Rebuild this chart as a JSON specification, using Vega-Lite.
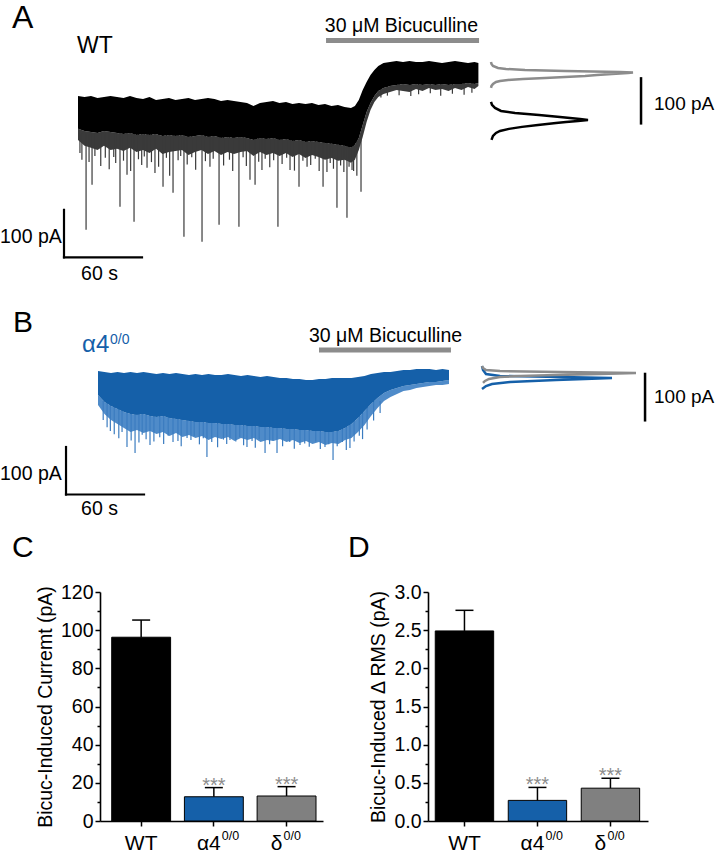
{
  "$schema": "https://vega.github.io/schema/vega-lite/v6.json",
  "background": "white",
  "padding": 0,
  "spacing": 0,
  "config": {"font": "Liberation Sans", "view": {"stroke": null}},
  "datasets": {
    "traceA": [
      {"t":0,"hi":8.4,"lo":-61.0,"fr":-84.2},{"t":5,"hi":6.3,"lo":-65.3,"fr":-96.8},{"t":10,"hi":8.4,"lo":-67.4,"fr":-101.0},
      {"t":15,"hi":4.2,"lo":-69.5,"fr":-105.3},{"t":20,"hi":6.3,"lo":-65.3,"fr":-96.8},{"t":25,"hi":8.4,"lo":-67.4,"fr":-105.3},
      {"t":30,"hi":6.3,"lo":-69.5,"fr":-103.1},{"t":35,"hi":4.2,"lo":-71.6,"fr":-107.4},{"t":40,"hi":8.4,"lo":-69.5,"fr":-101.0},
      {"t":45,"hi":4.2,"lo":-73.7,"fr":-109.5},{"t":50,"hi":2.1,"lo":-71.6,"fr":-105.3},{"t":55,"hi":6.3,"lo":-73.7,"fr":-111.6},
      {"t":60,"hi":0.0,"lo":-71.6,"fr":-103.1},{"t":65,"hi":2.1,"lo":-75.8,"fr":-113.7},{"t":70,"hi":4.2,"lo":-73.7,"fr":-109.5},
      {"t":75,"hi":0.0,"lo":-75.8,"fr":-107.4},{"t":80,"hi":2.1,"lo":-73.7,"fr":-105.3},{"t":85,"hi":4.2,"lo":-77.9,"fr":-115.8},
      {"t":90,"hi":0.0,"lo":-75.8,"fr":-109.5},{"t":95,"hi":2.1,"lo":-73.7,"fr":-105.3},{"t":100,"hi":4.2,"lo":-77.9,"fr":-113.7},
      {"t":105,"hi":2.1,"lo":-75.8,"fr":-107.4},{"t":110,"hi":-2.1,"lo":-80.0,"fr":-115.8},{"t":115,"hi":0.0,"lo":-77.9,"fr":-109.5},
      {"t":120,"hi":-2.1,"lo":-80.0,"fr":-113.7},{"t":125,"hi":-4.2,"lo":-77.9,"fr":-109.5},{"t":130,"hi":-6.3,"lo":-80.0,"fr":-107.4},
      {"t":135,"hi":-12.6,"lo":-84.2,"fr":-117.9},{"t":140,"hi":-6.3,"lo":-80.0,"fr":-109.5},{"t":145,"hi":-4.2,"lo":-82.1,"fr":-115.8},
      {"t":150,"hi":-2.1,"lo":-80.0,"fr":-111.6},{"t":155,"hi":-6.3,"lo":-84.2,"fr":-117.9},{"t":160,"hi":-4.2,"lo":-82.1,"fr":-111.6},
      {"t":165,"hi":-8.4,"lo":-86.3,"fr":-120.0},{"t":170,"hi":-6.3,"lo":-84.2,"fr":-113.7},{"t":175,"hi":-8.4,"lo":-88.4,"fr":-122.1},
      {"t":180,"hi":-6.3,"lo":-86.3,"fr":-115.8},{"t":185,"hi":-10.5,"lo":-88.4,"fr":-120.0},{"t":190,"hi":-8.4,"lo":-90.5,"fr":-126.3},
      {"t":195,"hi":-12.6,"lo":-92.6,"fr":-122.1},{"t":200,"hi":-10.5,"lo":-94.7,"fr":-128.4},{"t":205,"hi":-14.7,"lo":-96.8,"fr":-126.3},
      {"t":210,"hi":-16.8,"lo":-101.0,"fr":-132.6},{"t":213,"hi":-12.6,"lo":-94.7,"fr":-126.3},{"t":216,"hi":0.0,"lo":-80.0,"fr":-105.3},
      {"t":219,"hi":21.0,"lo":-52.6,"fr":-77.9},{"t":222,"hi":37.9,"lo":-25.3,"fr":-46.3},{"t":225,"hi":52.6,"lo":-6.3,"fr":-21.0},
      {"t":228,"hi":63.2,"lo":8.4,"fr":-4.2},{"t":231,"hi":71.6,"lo":18.9,"fr":6.3},{"t":235,"hi":77.9,"lo":25.3,"fr":12.6},
      {"t":240,"hi":80.0,"lo":29.5,"fr":16.8},{"t":245,"hi":82.1,"lo":31.6,"fr":21.0},{"t":250,"hi":80.0,"lo":33.7,"fr":18.9},
      {"t":255,"hi":82.1,"lo":31.6,"fr":16.8},{"t":260,"hi":80.0,"lo":33.7,"fr":23.2},{"t":265,"hi":80.0,"lo":31.6,"fr":18.9},
      {"t":270,"hi":82.1,"lo":33.7,"fr":25.3},{"t":275,"hi":80.0,"lo":31.6,"fr":21.0},{"t":280,"hi":77.9,"lo":33.7,"fr":23.2},
      {"t":285,"hi":80.0,"lo":31.6,"fr":18.9},{"t":290,"hi":82.1,"lo":33.7,"fr":25.3},{"t":295,"hi":80.0,"lo":33.7,"fr":21.0},
      {"t":300,"hi":77.9,"lo":35.8,"fr":27.4},{"t":305,"hi":80.0,"lo":33.7,"fr":23.2},{"t":308,"hi":77.9,"lo":35.8,"fr":29.5}
    ],
    "spikesA": [
      {"t":6.2,"tip":-273.7},{"t":10.8,"tip":-178.9},{"t":32.3,"tip":-225.2},{"t":37.7,"tip":-157.9},{"t":43.1,"tip":-256.8},
      {"t":53.1,"tip":-143.1},{"t":59.2,"tip":-153.7},{"t":65.4,"tip":-183.1},{"t":73.1,"tip":-195.8},{"t":81.5,"tip":-288.4},
      {"t":95.4,"tip":-298.9},{"t":101.5,"tip":-141.0},{"t":108.5,"tip":-263.1},{"t":123.8,"tip":-267.3},{"t":132.3,"tip":-168.4},
      {"t":136.2,"tip":-178.9},{"t":141.5,"tip":-147.4},{"t":153.8,"tip":-267.3},{"t":163.1,"tip":-147.4},{"t":170.0,"tip":-183.1},
      {"t":176.2,"tip":-141.0},{"t":188.5,"tip":-183.1},{"t":191.5,"tip":-151.6},{"t":199.2,"tip":-227.3},{"t":206.9,"tip":-248.4},
      {"t":210.8,"tip":-147.4},{"t":217.7,"tip":-193.7},
      {"t":1.5,"tip":-112},{"t":3,"tip":-126},{"t":8.5,"tip":-131},{"t":13,"tip":-118},{"t":17.5,"tip":-139},{"t":21,"tip":-122},
      {"t":24,"tip":-146},{"t":27.5,"tip":-120},{"t":29,"tip":-133},{"t":35,"tip":-128},{"t":40.5,"tip":-150},{"t":46.5,"tip":-125},
      {"t":49,"tip":-137},{"t":51,"tip":-119},{"t":56.5,"tip":-131},{"t":62,"tip":-141},{"t":68,"tip":-122},{"t":70.5,"tip":-160},
      {"t":77,"tip":-127},{"t":79,"tip":-118},{"t":84,"tip":-136},{"t":87.5,"tip":-121},{"t":90.5,"tip":-147},{"t":98,"tip":-129},
      {"t":104,"tip":-124},{"t":112,"tip":-138},{"t":116.5,"tip":-126},{"t":119,"tip":-150},{"t":127,"tip":-121},{"t":129.5,"tip":-139},
      {"t":139,"tip":-130},{"t":144,"tip":-124},{"t":147.5,"tip":-142},{"t":150.5,"tip":-127},{"t":157,"tip":-135},{"t":160.5,"tip":-122},
      {"t":166.5,"tip":-149},{"t":173,"tip":-128},{"t":179,"tip":-137},{"t":182.5,"tip":-124},{"t":185.5,"tip":-150},{"t":194,"tip":-133},
      {"t":196.5,"tip":-145},{"t":202,"tip":-138},{"t":204.5,"tip":-152},{"t":208.5,"tip":-141},{"t":212,"tip":-150},{"t":214.5,"tip":-160}
    ],
    "spikesA2": [
      {"t":233,"tip":5},{"t":238,"tip":9},{"t":247,"tip":10},{"t":256,"tip":8},{"t":262,"tip":12},{"t":271,"tip":14},
      {"t":279,"tip":9},{"t":288,"tip":13},{"t":297,"tip":11},{"t":303,"tip":15}
    ],
    "histA": [
      {"cond":"bicuculline","I":80.0,"count":0},{"cond":"bicuculline","I":75.8,"count":0.05},{"cond":"bicuculline","I":71.6,"count":0.2},
      {"cond":"bicuculline","I":67.4,"count":0.7},{"cond":"bicuculline","I":65.3,"count":1.5},{"cond":"bicuculline","I":63.2,"count":3.4},
      {"cond":"bicuculline","I":61.0,"count":7.4},{"cond":"bicuculline","I":58.9,"count":12.9},{"cond":"bicuculline","I":57.9,"count":14.2},
      {"cond":"bicuculline","I":56.8,"count":13.7},{"cond":"bicuculline","I":54.7,"count":12.1},{"cond":"bicuculline","I":52.6,"count":10.6},
      {"cond":"bicuculline","I":50.5,"count":9.4},{"cond":"bicuculline","I":48.4,"count":7.4},{"cond":"bicuculline","I":46.3,"count":5.4},
      {"cond":"bicuculline","I":44.2,"count":3.2},{"cond":"bicuculline","I":42.1,"count":1.7},{"cond":"bicuculline","I":40.0,"count":0.9},
      {"cond":"bicuculline","I":37.9,"count":0.5},{"cond":"bicuculline","I":33.7,"count":0.2},{"cond":"bicuculline","I":29.5,"count":0.05},
      {"cond":"bicuculline","I":25.3,"count":0},
      {"cond":"control","I":-4.2,"count":0},{"cond":"control","I":-10.5,"count":0.1},{"cond":"control","I":-16.8,"count":0.4},
      {"cond":"control","I":-23.2,"count":1.0},{"cond":"control","I":-27.4,"count":2.4},{"cond":"control","I":-31.6,"count":4.8},
      {"cond":"control","I":-35.8,"count":6.9},{"cond":"control","I":-40.0,"count":8.9},{"cond":"control","I":-42.1,"count":9.7},
      {"cond":"control","I":-44.2,"count":8.7},{"cond":"control","I":-46.3,"count":7.5},{"cond":"control","I":-48.4,"count":6.5},
      {"cond":"control","I":-52.6,"count":4.7},{"cond":"control","I":-56.8,"count":3.1},{"cond":"control","I":-61.0,"count":1.8},
      {"cond":"control","I":-65.3,"count":0.9},{"cond":"control","I":-69.5,"count":0.5},{"cond":"control","I":-75.8,"count":0.2},
      {"cond":"control","I":-84.2,"count":0.05}
    ],
    "traceB": [
      {"t":0,"hi":8.4,"lo":-42.1,"fr":-63.2},{"t":5,"hi":6.3,"lo":-56.8,"fr":-82.1},{"t":10,"hi":4.2,"lo":-65.3,"fr":-94.7},
      {"t":15,"hi":6.3,"lo":-71.6,"fr":-103.1},{"t":20,"hi":4.2,"lo":-77.9,"fr":-111.6},{"t":25,"hi":6.3,"lo":-82.1,"fr":-120.0},
      {"t":30,"hi":4.2,"lo":-84.2,"fr":-115.8},{"t":35,"hi":6.3,"lo":-82.1,"fr":-122.1},{"t":40,"hi":4.2,"lo":-86.3,"fr":-117.9},
      {"t":45,"hi":2.1,"lo":-88.4,"fr":-124.2},{"t":50,"hi":4.2,"lo":-86.3,"fr":-120.0},{"t":55,"hi":2.1,"lo":-90.5,"fr":-128.4},
      {"t":60,"hi":4.2,"lo":-92.6,"fr":-122.1},{"t":65,"hi":2.1,"lo":-94.7,"fr":-130.5},{"t":70,"hi":0.0,"lo":-96.8,"fr":-126.3},
      {"t":75,"hi":2.1,"lo":-98.9,"fr":-132.6},{"t":80,"hi":0.0,"lo":-98.9,"fr":-128.4},{"t":85,"hi":2.1,"lo":-101.0,"fr":-136.8},
      {"t":90,"hi":0.0,"lo":-101.0,"fr":-130.5},{"t":95,"hi":0.0,"lo":-103.1,"fr":-134.7},{"t":100,"hi":2.1,"lo":-103.1,"fr":-130.5},
      {"t":105,"hi":0.0,"lo":-105.2,"fr":-138.9},{"t":110,"hi":-2.1,"lo":-105.2,"fr":-132.6},{"t":115,"hi":0.0,"lo":-107.4,"fr":-136.8},
      {"t":120,"hi":-2.1,"lo":-107.4,"fr":-132.6},{"t":125,"hi":-4.2,"lo":-109.5,"fr":-141.0},{"t":130,"hi":-2.1,"lo":-109.5,"fr":-136.8},
      {"t":135,"hi":-4.2,"lo":-111.6,"fr":-138.9},{"t":140,"hi":-6.3,"lo":-111.6,"fr":-134.7},{"t":145,"hi":-6.3,"lo":-113.7,"fr":-141.0},
      {"t":150,"hi":-8.4,"lo":-113.7,"fr":-136.8},{"t":155,"hi":-8.4,"lo":-115.8,"fr":-143.1},{"t":160,"hi":-10.5,"lo":-115.8,"fr":-138.9},
      {"t":165,"hi":-10.5,"lo":-117.9,"fr":-145.2},{"t":170,"hi":-8.4,"lo":-117.9,"fr":-141.0},{"t":175,"hi":-8.4,"lo":-120.0,"fr":-147.3},
      {"t":180,"hi":-6.3,"lo":-120.0,"fr":-143.1},{"t":185,"hi":-6.3,"lo":-117.9,"fr":-145.2},{"t":190,"hi":-6.3,"lo":-111.6,"fr":-136.8},
      {"t":195,"hi":-6.3,"lo":-103.1,"fr":-132.6},{"t":200,"hi":-4.2,"lo":-90.5,"fr":-120.0},{"t":205,"hi":-2.1,"lo":-75.8,"fr":-105.2},
      {"t":210,"hi":2.1,"lo":-61.0,"fr":-86.3},{"t":215,"hi":4.2,"lo":-48.4,"fr":-69.5},{"t":220,"hi":6.3,"lo":-37.9,"fr":-54.7},
      {"t":225,"hi":6.3,"lo":-31.6,"fr":-46.3},{"t":230,"hi":8.4,"lo":-27.4,"fr":-40.0},{"t":235,"hi":10.5,"lo":-23.2,"fr":-33.7},
      {"t":240,"hi":10.5,"lo":-21.0,"fr":-31.6},{"t":245,"hi":12.6,"lo":-18.9,"fr":-27.4},{"t":250,"hi":12.6,"lo":-16.8,"fr":-25.3},
      {"t":255,"hi":12.6,"lo":-14.7,"fr":-23.2},{"t":260,"hi":10.5,"lo":-14.7,"fr":-21.0},{"t":265,"hi":12.6,"lo":-12.6,"fr":-21.0},
      {"t":270,"hi":10.5,"lo":-10.5,"fr":-18.9}
    ],
    "spikesB": [
      {"t":22.3,"tip":-151.6},{"t":28.5,"tip":-164.2},{"t":40.0,"tip":-147.3},{"t":57.7,"tip":-141.0},{"t":68.5,"tip":-132.6},
      {"t":83.8,"tip":-172.6},{"t":101.5,"tip":-136.8},{"t":114.6,"tip":-151.6},{"t":128.5,"tip":-164.2},{"t":137.7,"tip":-164.2},
      {"t":155.4,"tip":-147.3},{"t":174.6,"tip":-151.6},{"t":180.8,"tip":-178.9},{"t":193.8,"tip":-153.7},
      {"t":4,"tip":-95},{"t":7,"tip":-110},{"t":9.5,"tip":-118},{"t":12.5,"tip":-125},{"t":16,"tip":-133},{"t":18.5,"tip":-120},
      {"t":25.5,"tip":-138},{"t":31.5,"tip":-142},{"t":34,"tip":-126},{"t":37,"tip":-135},{"t":43,"tip":-140},{"t":47.5,"tip":-131},
      {"t":50.5,"tip":-145},{"t":54,"tip":-128},{"t":61.5,"tip":-139},{"t":64,"tip":-150},{"t":71.5,"tip":-137},{"t":74,"tip":-129},
      {"t":78,"tip":-146},{"t":81,"tip":-133},{"t":87.5,"tip":-141},{"t":92,"tip":-152},{"t":96.5,"tip":-136},{"t":99,"tip":-145},
      {"t":106,"tip":-140},{"t":109,"tip":-131},{"t":112,"tip":-148},{"t":118.5,"tip":-139},{"t":121,"tip":-153},{"t":124,"tip":-135},
      {"t":132,"tip":-146},{"t":134.5,"tip":-138},{"t":142,"tip":-150},{"t":147.5,"tip":-141},{"t":151,"tip":-155},{"t":159,"tip":-144},
      {"t":162.5,"tip":-151},{"t":167.5,"tip":-140},{"t":171,"tip":-156},{"t":177.5,"tip":-146},{"t":184,"tip":-150},{"t":188,"tip":-141},
      {"t":191,"tip":-158},{"t":197,"tip":-140},{"t":201,"tip":-128},{"t":203.5,"tip":-135},{"t":207,"tip":-115},{"t":212,"tip":-96},
      {"t":217,"tip":-80}
    ],
    "histB": [
      {"cond":"bicuculline","I":18.9,"count":0},{"cond":"bicuculline","I":14.7,"count":0.1},{"cond":"bicuculline","I":10.5,"count":0.4},
      {"cond":"bicuculline","I":8.4,"count":1.8},{"cond":"bicuculline","I":6.3,"count":7.8},{"cond":"bicuculline","I":4.2,"count":15.4},
      {"cond":"bicuculline","I":2.1,"count":11.8},{"cond":"bicuculline","I":0.0,"count":7.4},{"cond":"bicuculline","I":-2.1,"count":3.8},
      {"cond":"bicuculline","I":-4.2,"count":1.8},{"cond":"bicuculline","I":-8.4,"count":0.7},{"cond":"bicuculline","I":-12.6,"count":0.3},
      {"cond":"bicuculline","I":-16.8,"count":0.1},
      {"cond":"control","I":18.9,"count":0},{"cond":"control","I":10.5,"count":0.1},{"cond":"control","I":2.1,"count":0.4},
      {"cond":"control","I":-2.1,"count":1.8},{"cond":"control","I":-4.2,"count":7.8},{"cond":"control","I":-6.3,"count":13.0},
      {"cond":"control","I":-8.4,"count":10.3},{"cond":"control","I":-10.5,"count":7.4},{"cond":"control","I":-14.7,"count":2.8},
      {"cond":"control","I":-18.9,"count":1.0},{"cond":"control","I":-23.2,"count":0.4},{"cond":"control","I":-29.5,"count":0}
    ],
    "barsC": [
      {"genotype":"WT","allele":"","mean":96.3,"upper":105.3,"sig":""},
      {"genotype":"α4","allele":"0/0","mean":12.7,"upper":17.5,"sig":"***"},
      {"genotype":"δ","allele":"0/0","mean":13.1,"upper":18.0,"sig":"***"}
    ],
    "barsD": [
      {"genotype":"WT","allele":"","mean":2.49,"upper":2.76,"sig":""},
      {"genotype":"α4","allele":"0/0","mean":0.27,"upper":0.44,"sig":"***"},
      {"genotype":"δ","allele":"0/0","mean":0.43,"upper":0.56,"sig":"***"}
    ]
  },
  "vconcat": [
    {
      "width": 616,
      "height": 290,
      "data": {"values": [{}]},
      "resolve": {"scale": {"x": "independent"}},
      "layer": [
        {
          "layer": [
            {
              "data": {"name": "traceA"},
              "mark": {"type": "area", "color": "#3a3a3a", "opacity": 1},
              "encoding": {
                "x": {"field": "t", "type": "quantitative", "scale": {"domain": [16.92, 490.77], "nice": false, "zero": false}, "axis": null},
                "y": {"field": "lo", "type": "quantitative", "scale": {"domain": [-400.45, 210.5], "nice": false, "zero": false}, "axis": null},
                "y2": {"field": "fr"}
              }
            },
            {
              "data": {"name": "spikesA"},
              "mark": {"type": "rule", "color": "#3a3a3a", "strokeWidth": 1.2},
              "encoding": {
                "x": {"field": "t", "type": "quantitative", "scale": {"domain": [16.92, 490.77], "nice": false, "zero": false}, "axis": null},
                "y": {"field": "tip", "type": "quantitative", "scale": {"domain": [-400.45, 210.5], "nice": false, "zero": false}, "axis": null},
                "y2": {"datum": -70}
              }
            },
            {
              "data": {"name": "spikesA2"},
              "mark": {"type": "rule", "color": "#3a3a3a", "strokeWidth": 1.2},
              "encoding": {
                "x": {"field": "t", "type": "quantitative", "scale": {"domain": [16.92, 490.77], "nice": false, "zero": false}, "axis": null},
                "y": {"field": "tip", "type": "quantitative", "scale": {"domain": [-400.45, 210.5], "nice": false, "zero": false}, "axis": null},
                "y2": {"datum": 40}
              }
            },
            {
              "data": {"name": "traceA"},
              "mark": {"type": "area", "color": "#000000", "opacity": 1},
              "encoding": {
                "x": {"field": "t", "type": "quantitative", "scale": {"domain": [16.92, 490.77], "nice": false, "zero": false}, "axis": null},
                "y": {"field": "hi", "type": "quantitative", "scale": {"domain": [-400.45, 210.5], "nice": false, "zero": false}, "axis": null},
                "y2": {"field": "lo"}
              }
            },
            {
              "mark": {"type": "rule", "color": "#8c8c8c", "strokeWidth": 5},
              "encoding": {
                "x": {"datum": 190.8, "type": "quantitative", "scale": {"domain": [16.92, 490.77], "nice": false, "zero": false}, "axis": null},
                "x2": {"datum": 308.5},
                "y": {"datum": 125.2, "type": "quantitative", "scale": {"domain": [-400.45, 210.5], "nice": false, "zero": false}, "axis": null}
              }
            },
            {
              "mark": {"type": "text", "text": "30 μM Bicuculline", "fontSize": 19.5, "align": "center", "baseline": "alphabetic", "color": "black"},
              "encoding": {
                "x": {"datum": 248.8, "type": "quantitative", "scale": {"domain": [16.92, 490.77], "nice": false, "zero": false}, "axis": null},
                "y": {"datum": 143.1, "type": "quantitative", "scale": {"domain": [-400.45, 210.5], "nice": false, "zero": false}, "axis": null}
              }
            },
            {
              "mark": {"type": "text", "text": "A", "fontSize": 32, "align": "left", "baseline": "alphabetic", "color": "black"},
              "encoding": {
                "x": {"datum": -50.8, "type": "quantitative", "scale": {"domain": [16.92, 490.77], "nice": false, "zero": false}, "axis": null},
                "y": {"datum": 150.5, "type": "quantitative", "scale": {"domain": [-400.45, 210.5], "nice": false, "zero": false}, "axis": null}
              }
            },
            {
              "mark": {"type": "text", "text": "WT", "fontSize": 23, "align": "left", "baseline": "alphabetic", "color": "black"},
              "encoding": {
                "x": {"datum": -0.8, "type": "quantitative", "scale": {"domain": [16.92, 490.77], "nice": false, "zero": false}, "axis": null},
                "y": {"datum": 98.9, "type": "quantitative", "scale": {"domain": [-400.45, 210.5], "nice": false, "zero": false}, "axis": null}
              }
            },
            {
              "mark": {"type": "rule", "color": "black", "strokeWidth": 2.2, "strokeCap": "square"},
              "encoding": {
                "x": {"datum": -10.77, "type": "quantitative", "scale": {"domain": [16.92, 490.77], "nice": false, "zero": false}, "axis": null},
                "y": {"datum": -231.6, "type": "quantitative", "scale": {"domain": [-400.45, 210.5], "nice": false, "zero": false}, "axis": null},
                "y2": {"datum": -331.6}
              }
            },
            {
              "mark": {"type": "rule", "color": "black", "strokeWidth": 2.2, "strokeCap": "square"},
              "encoding": {
                "x": {"datum": -10.77, "type": "quantitative", "scale": {"domain": [16.92, 490.77], "nice": false, "zero": false}, "axis": null},
                "x2": {"datum": 49.23},
                "y": {"datum": -331.6, "type": "quantitative", "scale": {"domain": [-400.45, 210.5], "nice": false, "zero": false}, "axis": null}
              }
            },
            {
              "mark": {"type": "text", "text": "100 pA", "fontSize": 19.5, "align": "left", "baseline": "alphabetic", "color": "black"},
              "encoding": {
                "x": {"datum": -60, "type": "quantitative", "scale": {"domain": [16.92, 490.77], "nice": false, "zero": false}, "axis": null},
                "y": {"datum": -301, "type": "quantitative", "scale": {"domain": [-400.45, 210.5], "nice": false, "zero": false}, "axis": null}
              }
            },
            {
              "mark": {"type": "text", "text": "60 s", "fontSize": 19.5, "align": "center", "baseline": "alphabetic", "color": "black"},
              "encoding": {
                "x": {"datum": 16.5, "type": "quantitative", "scale": {"domain": [16.92, 490.77], "nice": false, "zero": false}, "axis": null},
                "y": {"datum": -378.9, "type": "quantitative", "scale": {"domain": [-400.45, 210.5], "nice": false, "zero": false}, "axis": null}
              }
            },
            {
              "mark": {"type": "rule", "color": "black", "strokeWidth": 2.5},
              "encoding": {
                "x": {"datum": 433.1, "type": "quantitative", "scale": {"domain": [16.92, 490.77], "nice": false, "zero": false}, "axis": null},
                "y": {"datum": 48, "type": "quantitative", "scale": {"domain": [-400.45, 210.5], "nice": false, "zero": false}, "axis": null},
                "y2": {"datum": -52}
              }
            },
            {
              "mark": {"type": "text", "text": "100 pA", "fontSize": 19, "align": "left", "baseline": "alphabetic", "color": "black"},
              "encoding": {
                "x": {"datum": 443.1, "type": "quantitative", "scale": {"domain": [16.92, 490.77], "nice": false, "zero": false}, "axis": null},
                "y": {"datum": -21, "type": "quantitative", "scale": {"domain": [-400.45, 210.5], "nice": false, "zero": false}, "axis": null}
              }
            }
          ]
        },
        {
          "data": {"name": "histA"},
          "layer": [
            {
              "transform": [{"filter": "datum.cond === 'bicuculline'"}],
              "mark": {"type": "line", "color": "#8c8c8c", "strokeWidth": 2.5},
              "encoding": {
                "x": {"field": "count", "type": "quantitative", "scale": {"domain": [-39.1, 22.5], "nice": false, "zero": false}, "axis": null},
                "y": {"field": "I", "type": "quantitative", "scale": {"domain": [-400.45, 210.5], "nice": false, "zero": false}, "axis": null},
                "order": {"field": "I", "type": "quantitative"}
              }
            },
            {
              "transform": [{"filter": "datum.cond === 'control'"}],
              "mark": {"type": "line", "color": "#000000", "strokeWidth": 2.5},
              "encoding": {
                "x": {"field": "count", "type": "quantitative", "scale": {"domain": [-39.1, 22.5], "nice": false, "zero": false}, "axis": null},
                "y": {"field": "I", "type": "quantitative", "scale": {"domain": [-400.45, 210.5], "nice": false, "zero": false}, "axis": null},
                "order": {"field": "I", "type": "quantitative"}
              }
            }
          ]
        }
      ]
    },
    {
      "width": 616,
      "height": 243,
      "data": {"values": [{}]},
      "resolve": {"scale": {"x": "independent"}},
      "layer": [
        {
          "layer": [
            {
              "data": {"name": "traceB"},
              "mark": {"type": "area", "color": "#4f8bc9", "opacity": 1},
              "encoding": {
                "x": {"field": "t", "type": "quantitative", "scale": {"domain": [1.538, 475.38], "nice": false, "zero": false}, "axis": null},
                "y": {"field": "lo", "type": "quantitative", "scale": {"domain": [-332.6, 178.9], "nice": false, "zero": false}, "axis": null},
                "y2": {"field": "fr"}
              }
            },
            {
              "data": {"name": "spikesB"},
              "mark": {"type": "rule", "color": "#3b7cc0", "strokeWidth": 1.2},
              "encoding": {
                "x": {"field": "t", "type": "quantitative", "scale": {"domain": [1.538, 475.38], "nice": false, "zero": false}, "axis": null},
                "y": {"field": "tip", "type": "quantitative", "scale": {"domain": [-332.6, 178.9], "nice": false, "zero": false}, "axis": null},
                "y2": {"datum": -55}
              }
            },
            {
              "data": {"name": "traceB"},
              "mark": {"type": "area", "color": "#1560a9", "opacity": 1},
              "encoding": {
                "x": {"field": "t", "type": "quantitative", "scale": {"domain": [1.538, 475.38], "nice": false, "zero": false}, "axis": null},
                "y": {"field": "hi", "type": "quantitative", "scale": {"domain": [-332.6, 178.9], "nice": false, "zero": false}, "axis": null},
                "y2": {"field": "lo"}
              }
            },
            {
              "mark": {"type": "rule", "color": "#8c8c8c", "strokeWidth": 5},
              "encoding": {
                "x": {"datum": 170, "type": "quantitative", "scale": {"domain": [1.538, 475.38], "nice": false, "zero": false}, "axis": null},
                "x2": {"datum": 271.5},
                "y": {"datum": 52.6, "type": "quantitative", "scale": {"domain": [-332.6, 178.9], "nice": false, "zero": false}, "axis": null}
              }
            },
            {
              "mark": {"type": "text", "text": "30 μM Bicuculline", "fontSize": 19.5, "align": "center", "baseline": "alphabetic", "color": "black"},
              "encoding": {
                "x": {"datum": 221.15, "type": "quantitative", "scale": {"domain": [1.538, 475.38], "nice": false, "zero": false}, "axis": null},
                "y": {"datum": 69.5, "type": "quantitative", "scale": {"domain": [-332.6, 178.9], "nice": false, "zero": false}, "axis": null}
              }
            },
            {
              "mark": {"type": "text", "text": "B", "fontSize": 30, "align": "left", "baseline": "alphabetic", "color": "black"},
              "encoding": {
                "x": {"datum": -65.4, "type": "quantitative", "scale": {"domain": [1.538, 475.38], "nice": false, "zero": false}, "axis": null},
                "y": {"datum": 90.5, "type": "quantitative", "scale": {"domain": [-332.6, 178.9], "nice": false, "zero": false}, "axis": null}
              }
            },
            {
              "mark": {"type": "text", "text": "α4", "fontSize": 24, "align": "left", "baseline": "alphabetic", "color": "#1560a9"},
              "encoding": {
                "x": {"datum": -12.3, "type": "quantitative", "scale": {"domain": [1.538, 475.38], "nice": false, "zero": false}, "axis": null},
                "y": {"datum": 48.4, "type": "quantitative", "scale": {"domain": [-332.6, 178.9], "nice": false, "zero": false}, "axis": null}
              }
            },
            {
              "mark": {"type": "text", "text": "0/0", "fontSize": 14, "align": "left", "baseline": "alphabetic", "color": "#1560a9"},
              "encoding": {
                "x": {"datum": 9.23, "type": "quantitative", "scale": {"domain": [1.538, 475.38], "nice": false, "zero": false}, "axis": null},
                "y": {"datum": 65.3, "type": "quantitative", "scale": {"domain": [-332.6, 178.9], "nice": false, "zero": false}, "axis": null}
              }
            },
            {
              "mark": {"type": "rule", "color": "black", "strokeWidth": 2.2, "strokeCap": "square"},
              "encoding": {
                "x": {"datum": -24.6, "type": "quantitative", "scale": {"domain": [1.538, 475.38], "nice": false, "zero": false}, "axis": null},
                "y": {"datum": -151.6, "type": "quantitative", "scale": {"domain": [-332.6, 178.9], "nice": false, "zero": false}, "axis": null},
                "y2": {"datum": -251.6}
              }
            },
            {
              "mark": {"type": "rule", "color": "black", "strokeWidth": 2.2, "strokeCap": "square"},
              "encoding": {
                "x": {"datum": -24.6, "type": "quantitative", "scale": {"domain": [1.538, 475.38], "nice": false, "zero": false}, "axis": null},
                "x2": {"datum": 35.4},
                "y": {"datum": -251.6, "type": "quantitative", "scale": {"domain": [-332.6, 178.9], "nice": false, "zero": false}, "axis": null}
              }
            },
            {
              "mark": {"type": "text", "text": "100 pA", "fontSize": 19.5, "align": "left", "baseline": "alphabetic", "color": "black"},
              "encoding": {
                "x": {"datum": -75.38, "type": "quantitative", "scale": {"domain": [1.538, 475.38], "nice": false, "zero": false}, "axis": null},
                "y": {"datum": -221, "type": "quantitative", "scale": {"domain": [-332.6, 178.9], "nice": false, "zero": false}, "axis": null}
              }
            },
            {
              "mark": {"type": "text", "text": "60 s", "fontSize": 19.5, "align": "center", "baseline": "alphabetic", "color": "black"},
              "encoding": {
                "x": {"datum": 1.15, "type": "quantitative", "scale": {"domain": [1.538, 475.38], "nice": false, "zero": false}, "axis": null},
                "y": {"datum": -294.7, "type": "quantitative", "scale": {"domain": [-332.6, 178.9], "nice": false, "zero": false}, "axis": null}
              }
            },
            {
              "mark": {"type": "rule", "color": "black", "strokeWidth": 2.5},
              "encoding": {
                "x": {"datum": 420.8, "type": "quantitative", "scale": {"domain": [1.538, 475.38], "nice": false, "zero": false}, "axis": null},
                "y": {"datum": 4.8, "type": "quantitative", "scale": {"domain": [-332.6, 178.9], "nice": false, "zero": false}, "axis": null},
                "y2": {"datum": -98}
              }
            },
            {
              "mark": {"type": "text", "text": "100 pA", "fontSize": 19, "align": "left", "baseline": "alphabetic", "color": "black"},
              "encoding": {
                "x": {"datum": 427.7, "type": "quantitative", "scale": {"domain": [1.538, 475.38], "nice": false, "zero": false}, "axis": null},
                "y": {"datum": -58.9, "type": "quantitative", "scale": {"domain": [-332.6, 178.9], "nice": false, "zero": false}, "axis": null}
              }
            }
          ]
        },
        {
          "data": {"name": "histB"},
          "layer": [
            {
              "transform": [{"filter": "datum.cond === 'control'"}],
              "mark": {"type": "line", "color": "#1560a9", "strokeWidth": 2.5},
              "encoding": {
                "x": {"field": "count", "type": "quantitative", "scale": {"domain": [-38.2, 23.4], "nice": false, "zero": false}, "axis": null},
                "y": {"field": "I", "type": "quantitative", "scale": {"domain": [-332.6, 178.9], "nice": false, "zero": false}, "axis": null},
                "order": {"field": "I", "type": "quantitative"}
              }
            },
            {
              "transform": [{"filter": "datum.cond === 'bicuculline'"}],
              "mark": {"type": "line", "color": "#8c8c8c", "strokeWidth": 2.5},
              "encoding": {
                "x": {"field": "count", "type": "quantitative", "scale": {"domain": [-38.2, 23.4], "nice": false, "zero": false}, "axis": null},
                "y": {"field": "I", "type": "quantitative", "scale": {"domain": [-332.6, 178.9], "nice": false, "zero": false}, "axis": null},
                "order": {"field": "I", "type": "quantitative"}
              }
            }
          ]
        }
      ]
    },
    {
      "spacing": 25,
      "hconcat": [
        {
          "width": 223,
          "height": 229,
          "title": {"text": "C", "anchor": "start", "frame": "group", "dx": -88, "offset": 19, "fontSize": 30, "fontWeight": "normal", "color": "black"},
          "data": {"name": "barsC"},
          "resolve": {"axis": {"y": "independent"}},
          "encoding": {
            "x": {
              "field": "genotype", "type": "nominal", "sort": ["WT", "α4", "δ"],
              "scale": {"paddingInner": 0.19, "paddingOuter": 0.1286, "align": 0.626},
              "axis": {
                "title": null, "labelAngle": 0, "labelFontSize": 21, "labelColor": "black", "labelPadding": 6,
                "tickSize": 5, "tickWidth": 1.5, "tickColor": "black", "domainColor": "black", "domainWidth": 1.6,
                "labelOffset": {"condition": [{"test": "datum.value === 'α4'", "value": -5}, {"test": "datum.value === 'δ'", "value": -10}], "value": 0}
              }
            }
          },
          "layer": [
            {
              "mark": {"type": "bar", "stroke": "black", "strokeWidth": 1, "opacity": 1},
              "encoding": {
                "y": {
                  "field": "mean", "type": "quantitative", "title": "Bicuc-Induced Curremt (pA)",
                  "scale": {"domain": [0, 120], "nice": false},
                  "axis": {
                    "orient": "left",
                    "values": [0, 20, 40, 60, 80, 100, 120],
                    "labelOverlap": false, "tickSize": 5,
                    "labelFontSize": 19.5, "labelColor": "black", "labelPadding": 2,
                    "titleFontSize": 19.5, "titleFontWeight": "normal", "titleColor": "black", "titlePadding": 5,
                    "tickColor": "black", "tickWidth": 1.5, "domainColor": "black", "domainWidth": 1.6, "grid": false
                  }
                },
                "color": {"field": "genotype", "type": "nominal", "scale": {"domain": ["WT", "α4", "δ"], "range": ["#000000", "#1560a9", "#808080"]}, "legend": null}
              }
            },
            {
              "mark": {"type": "rule", "color": "black", "strokeWidth": 1.5},
              "encoding": {
                "y": {"field": "mean", "type": "quantitative", "axis": null},
                "y2": {"field": "upper"}
              }
            },
            {
              "mark": {"type": "tick", "orient": "horizontal", "color": "black", "size": 18, "thickness": 1.5, "opacity": 1},
              "encoding": {
                "y": {
                  "field": "upper", "type": "quantitative",
                  "axis": {"orient": "left", "values": [10, 30, 50, 70, 90, 110], "labels": false, "domain": false, "title": null, "tickSize": 3, "tickColor": "black", "tickWidth": 1.5, "grid": false}
                }
              }
            },
            {
              "mark": {"type": "text", "fontSize": 20, "color": "#8c8c8c", "baseline": "alphabetic", "dy": 4},
              "encoding": {
                "y": {"field": "upper", "type": "quantitative", "axis": null},
                "text": {"field": "sig"}
              }
            },
            {
              "transform": [{"filter": "datum.allele !== ''"}],
              "mark": {"type": "text", "fontSize": 12.5, "color": "black", "align": "left", "baseline": "top", "dy": 9, "dx": {"expr": "datum.genotype === 'δ' ? -3 : 8"}},
              "encoding": {
                "y": {"datum": 0, "type": "quantitative", "axis": null},
                "text": {"field": "allele"}
              }
            }
          ]
        },
        {
          "width": 220,
          "height": 229,
          "title": {"text": "D", "anchor": "start", "frame": "group", "dx": -80, "offset": 19, "fontSize": 30, "fontWeight": "normal", "color": "black"},
          "data": {"name": "barsD"},
          "resolve": {"axis": {"y": "independent"}},
          "encoding": {
            "x": {
              "field": "genotype", "type": "nominal", "sort": ["WT", "α4", "δ"],
              "scale": {"paddingInner": 0.2, "paddingOuter": 0.107, "align": 0.465},
              "axis": {
                "title": null, "labelAngle": 0, "labelFontSize": 21, "labelColor": "black", "labelPadding": 6,
                "tickSize": 5, "tickWidth": 1.5, "tickColor": "black", "domainColor": "black", "domainWidth": 1.6,
                "labelOffset": {"condition": [{"test": "datum.value === 'α4'", "value": -5}, {"test": "datum.value === 'δ'", "value": -10}], "value": 0}
              }
            }
          },
          "layer": [
            {
              "mark": {"type": "bar", "stroke": "black", "strokeWidth": 1, "opacity": 1},
              "encoding": {
                "y": {
                  "field": "mean", "type": "quantitative", "title": "Bicuc-Induced Δ RMS (pA)",
                  "scale": {"domain": [0, 3], "nice": false},
                  "axis": {
                    "orient": "left",
                    "values": [0, 0.5, 1, 1.5, 2, 2.5, 3],
                    "format": ".1f",
                    "labelOverlap": false, "tickSize": 5,
                    "labelFontSize": 19.5, "labelColor": "black", "labelPadding": 2,
                    "titleFontSize": 19.5, "titleFontWeight": "normal", "titleColor": "black", "titlePadding": 5,
                    "tickColor": "black", "tickWidth": 1.5, "domainColor": "black", "domainWidth": 1.6, "grid": false
                  }
                },
                "color": {"field": "genotype", "type": "nominal", "scale": {"domain": ["WT", "α4", "δ"], "range": ["#000000", "#1560a9", "#808080"]}, "legend": null}
              }
            },
            {
              "mark": {"type": "rule", "color": "black", "strokeWidth": 1.5},
              "encoding": {
                "y": {"field": "mean", "type": "quantitative", "axis": null},
                "y2": {"field": "upper"}
              }
            },
            {
              "mark": {"type": "tick", "orient": "horizontal", "color": "black", "size": 18, "thickness": 1.5, "opacity": 1},
              "encoding": {
                "y": {
                  "field": "upper", "type": "quantitative",
                  "axis": {"orient": "left", "values": [0.25, 0.75, 1.25, 1.75, 2.25, 2.75], "labels": false, "domain": false, "title": null, "tickSize": 3, "tickColor": "black", "tickWidth": 1.5, "grid": false}
                }
              }
            },
            {
              "mark": {"type": "text", "fontSize": 20, "color": "#8c8c8c", "baseline": "alphabetic", "dy": 4},
              "encoding": {
                "y": {"field": "upper", "type": "quantitative", "axis": null},
                "text": {"field": "sig"}
              }
            },
            {
              "transform": [{"filter": "datum.allele !== ''"}],
              "mark": {"type": "text", "fontSize": 12.5, "color": "black", "align": "left", "baseline": "top", "dy": 9, "dx": {"expr": "datum.genotype === 'δ' ? -3 : 8"}},
              "encoding": {
                "y": {"datum": 0, "type": "quantitative", "axis": null},
                "text": {"field": "allele"}
              }
            }
          ]
        }
      ]
    }
  ]
}
